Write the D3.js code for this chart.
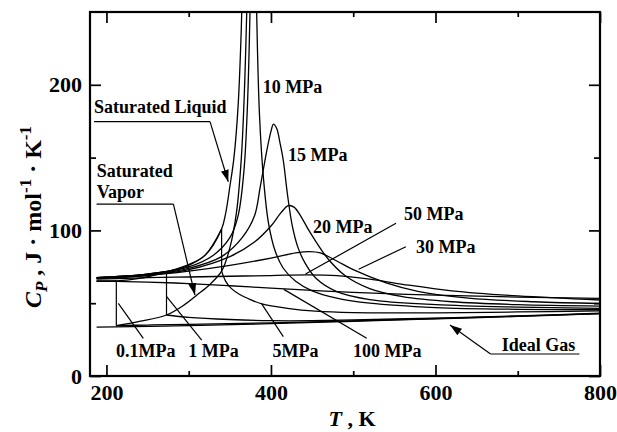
<!DOCTYPE html>
<html>
<head>
<meta charset="utf-8">
<script src="https://cdn.jsdelivr.net/npm/d3@7"></script>
<style>
  html, body { margin: 0; padding: 0; background: #fff; }
  svg text { font-family: "Liberation Serif", "Times New Roman", serif; font-weight: bold; fill: #000; }
</style>
</head>
<body>
<svg id="chart" width="617" height="432"></svg>
<script>
// Isobaric heat capacity of H2S, T in K, Cp in J/(mol K)
const idealGas   = [[188,33.5],[300,34.6],[400,36.0],[500,37.6],[600,39.3],[700,40.9],[800,42.8]];
const satLiquid  = [[188,65.2],[212,65.3],[240,67],[273,71.6],[300,76.5],[320,83],[340,101],[345,112],[350,130],[355,150],[360,185],[364,240],[366,290]];
const satVapor   = [[212,34.6],[240,37.5],[273,41.9],[295,49],[310,55.6],[325,62.5],[340,72],[350,88],[358,112],[364,150],[368,200],[371,260]];

const p01Liquid  = [[188,65.0],[200,65.1],[212,65.3]];
const p01Vapor   = [[212,34.6],[250,35.0],[300,35.5],[400,36.5],[500,37.9],[600,39.5],[700,41.1],[800,42.9]];
const p1Liquid   = [[188,67.5],[220,68.5],[250,70],[273,71.6]];
const p1Vapor    = [[273,41.9],[300,40.3],[350,38.8],[400,38.0],[450,38.0],[500,38.5],[600,39.8],[700,41.2],[800,43.1]];
const p5Liquid   = [[188,67.6],[220,68.6],[250,70],[280,72.5],[300,76],[320,83],[340,101]];
const p5Vapor    = [[340,72],[345,65],[352,60],[362,56],[375,52.5],[389,49.5],[420,46.5],[454,44.5],[500,43.5],[600,43.4],[700,44],[800,44.7]];
const p10        = [[188,67.6],[250,70],[300,75],[330,83],[350,95],[360,110],[367,140],[371,180],[374.5,250],[377,350],[378.5,420],[380,350],[382.6,250],[386,180],[391,135],[397,105],[405,86],[415,74],[430,65],[450,58.5],[480,53.5],[520,50],[600,47],[700,45.8],[800,45.5]];
const p15        = [[188,67.4],[250,69.5],[300,74],[340,82],[365,95],[380,110],[387,130],[395,155],[400,168],[403,173],[407,170],[411,160],[415,148],[420,125],[426,103],[433,88],[442,77],[455,67],[480,58],[520,52.5],[600,49],[700,47.3],[800,46.5]];
const p20        = [[188,67.2],[250,69.2],[300,73],[350,82],[380,92],[400,103],[412,112],[421,117],[428,116],[436,110],[445,101],[455,92],[470,80],[490,69],[520,60],[560,54.5],[620,51],[700,49],[800,48]];
const p30        = [[188,67],[250,69],[300,72],[350,76],[400,81],[430,84.5],[447,85.4],[460,84.5],[480,79],[500,73],[540,64],[580,58],[640,53.5],[720,51],[800,49.8]];
const p50        = [[188,66.5],[250,67.5],[300,68],[350,68.5],[400,69],[445,69.5],[480,69],[520,66.5],[560,63],[620,58.5],[700,55],[800,52.2]];
const p100       = [[188,65.3],[250,64.5],[300,63.5],[350,62],[400,60.3],[450,58.8],[500,57.5],[600,55.5],[700,54.2],[800,53.3]];

// vertical two-phase jumps: [T, Cp liquid, Cp vapor]
const jumps = [[212,65.3,34.6],[273,71.6,41.9],[340,101,72]];

const xMajor = [200,400,600,800], xMinor = [300,500,700];
const yMajor = [0,100,200], yMinor = [50,150];

// label text with anchor and optional leader [T,Cp,T,Cp]
const labels = [
  {text:"10 MPa",  at:[389.9,194.4]},
  {text:"15 MPa",  at:[420.7,147.7]},
  {text:"20 MPa",  at:[451,98.2]},
  {text:"50 MPa",  at:[561.7,107.1], leader:[552,104.9,442,70]},
  {text:"30 MPa",  at:[576.3,84.5],  leader:[564,88.8,506.6,73.3]},
  {text:"0.1MPa",  at:[211.6,13],    leader:[244.8,25.9,214.4,49.9]},
  {text:"1 MPa",   at:[299.5,13],    leader:[315.8,24.7,273.2,54.5]},
  {text:"5MPa",    at:[402,13],      leader:[415,27,388.7,49.5]},
  {text:"100 MPa", at:[499.7,13],    leader:[516.4,25.9,415.6,59.5]}
];
// underlined captions with an arrow: lines of text, underline [T0,T1,Cp], arrow tip [T,Cp]
const callouts = [
  {lines:["Saturated Liquid"], at:[184.9,180.6], under:[184.9,325.9,174.7], tip:[348.1,133.4], fromEnd:true},
  {lines:["Saturated","Vapor"], at:[188.1,136.7], under:[188,281.4,118.1], tip:[307.6,55.6], fromEnd:true},
  {lines:["Ideal Gas"], at:[680.5,17.2], under:[667,775,15.1], tip:[617.6,35], fromEnd:false}
];

const svg = d3.select("#chart");
const x = d3.scaleLinear().domain([180,800]).range([90,600]);
const y = d3.scaleLinear().domain([0,250]).range([376,12]);

svg.append("defs").append("clipPath").attr("id","plot")
  .append("rect").attr("x",90).attr("y",12).attr("width",510).attr("height",364);
const arrow = svg.select("defs").append("marker").attr("id","head")
  .attr("viewBox","0 0 12 8").attr("refX",12).attr("refY",4)
  .attr("markerWidth",12).attr("markerHeight",8).attr("markerUnits","userSpaceOnUse")
  .attr("orient","auto");
arrow.append("path").attr("d","M0,0 L12,4 L0,8 Z").attr("fill","#000");

const line = d3.line().x(d=>x(d[0])).y(d=>y(d[1])).curve(d3.curveCatmullRom.alpha(0.5));
const curves = [idealGas,satLiquid,satVapor,p01Liquid,p01Vapor,p1Liquid,p1Vapor,p5Liquid,p5Vapor,p10,p15,p20,p30,p50,p100];
const g = svg.append("g").attr("clip-path","url(#plot)");
g.selectAll("path.curve").data(curves).join("path").attr("class","curve")
  .attr("d",line).attr("fill","none").attr("stroke","#000").attr("stroke-width",1.3);
g.selectAll("line.jump").data(jumps).join("line").attr("class","jump")
  .attr("x1",d=>x(d[0])).attr("x2",d=>x(d[0])).attr("y1",d=>y(d[1])).attr("y2",d=>y(d[2]))
  .attr("stroke","#000").attr("stroke-width",1.2);

// axes with inward ticks on all four sides
function ticks(axis, vals, size, labelled, transform) {
  const a = axis.tickValues(vals).tickSize(-size).tickPadding(labelled ? 8 : 0)
    .tickFormat(labelled ? d3.format("d") : "");
  const gg = svg.append("g").attr("transform",transform).call(a);
  gg.select(".domain").remove();
  gg.selectAll(".tick line").attr("stroke","#000").attr("stroke-width",1.7);
  gg.selectAll("text").style("font-size","22px").attr("fill","#000");
  return gg;
}
ticks(d3.axisBottom(x), xMajor, 11, true, "translate(0,376)");
ticks(d3.axisBottom(x), xMinor, 5, false, "translate(0,376)");
ticks(d3.axisTop(x), xMajor, 11, false, "translate(0,12)");
ticks(d3.axisTop(x), xMinor, 5, false, "translate(0,12)");
ticks(d3.axisLeft(y), yMajor, 11, true, "translate(90,0)");
ticks(d3.axisLeft(y), yMinor, 6, false, "translate(90,0)");
ticks(d3.axisRight(y), yMajor, 11, false, "translate(600,0)");
ticks(d3.axisRight(y), yMinor, 6, false, "translate(600,0)");

svg.append("rect").attr("x",90).attr("y",12).attr("width",510).attr("height",364)
  .attr("fill","none").attr("stroke","#000").attr("stroke-width",2.2);

// axis titles
const xt = svg.append("text").attr("x",352).attr("y",426).attr("text-anchor","middle").style("font-size","22px");
xt.append("tspan").style("font-style","italic").text("T");
xt.append("tspan").text(" , K");

const yt = svg.append("text").attr("transform","translate(41,217) rotate(-90)")
  .attr("text-anchor","middle").style("font-size","24px");
yt.append("tspan").style("font-style","italic").text("C");
yt.append("tspan").style("font-style","italic").style("font-size","17px").attr("dy",6).text("P");
yt.append("tspan").attr("dy",-6).text("\u00a0,\u00a0J\u00a0\u00b7\u00a0mol");
yt.append("tspan").style("font-size","17px").attr("dy",-10).text("-1");
yt.append("tspan").attr("dy",10).text("\u00a0\u00b7\u00a0K");
yt.append("tspan").style("font-size","17px").attr("dy",-10).text("-1");

// isobar labels and leaders
svg.selectAll("text.lab").data(labels).join("text").attr("class","lab")
  .attr("x",d=>x(d.at[0])).attr("y",d=>y(d.at[1])).style("font-size","18px").text(d=>d.text);
svg.selectAll("line.leader").data(labels.filter(d=>d.leader)).join("line").attr("class","leader")
  .attr("x1",d=>x(d.leader[0])).attr("y1",d=>y(d.leader[1]))
  .attr("x2",d=>x(d.leader[2])).attr("y2",d=>y(d.leader[3]))
  .attr("stroke","#000").attr("stroke-width",1.2);

// underlined callouts with arrows
callouts.forEach(c => {
  const t = svg.append("text").attr("x",x(c.at[0])).attr("y",y(c.at[1])).style("font-size","18px");
  c.lines.forEach((s,i) => t.append("tspan").attr("x",x(c.at[0])).attr("dy",i ? 21.5 : 0).text(s));
  svg.append("line").attr("x1",x(c.under[0])).attr("x2",x(c.under[1]))
    .attr("y1",y(c.under[2])).attr("y2",y(c.under[2])).attr("stroke","#000").attr("stroke-width",1.2);
  const sx = c.fromEnd ? c.under[1] : c.under[0];
  svg.append("line").attr("x1",x(sx)).attr("y1",y(c.under[2]))
    .attr("x2",x(c.tip[0])).attr("y2",y(c.tip[1]))
    .attr("stroke","#000").attr("stroke-width",1.2).attr("marker-end","url(#head)");
});
</script>
</body>
</html>
